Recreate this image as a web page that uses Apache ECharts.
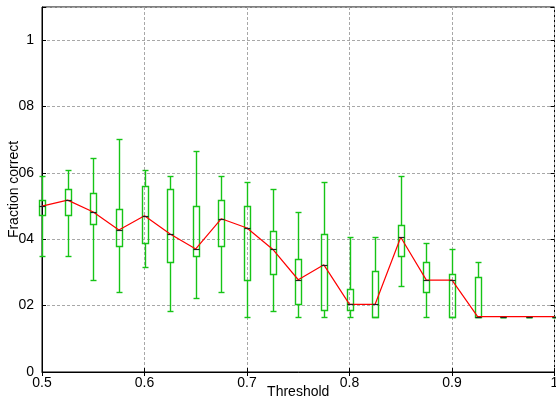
<!DOCTYPE html>
<html><head><meta charset="utf-8">
<script src="https://cdn.jsdelivr.net/npm/echarts@6/dist/echarts.min.js"></script>
<style>html,body{margin:0;padding:0;background:#fff}#c{width:556px;height:400px}</style>
</head><body><div id="c"></div>
<script>
// ---- data ----
const thresholds = [0.5,0.525,0.55,0.575,0.6,0.625,0.65,0.675,0.7,0.725,0.75,0.775,0.8,0.825,0.85,0.875,0.9,0.925,0.95,0.975,1.0];
const whiskerLow = [0.351,0.351,0.278,0.240,0.315,0.185,0.222,0.240,0.167,0.185,0.167,0.167,0.167,0.167,0.259,0.167,0.167,0.167,0.167,0.167,0.167];
const boxLow     = [0.472,0.472,0.445,0.380,0.388,0.333,0.351,0.379,0.277,0.295,0.204,0.186,0.186,0.167,0.351,0.240,0.167,0.167,0.167,0.167,0.167];
const medians    = [0.500,0.518,0.482,0.428,0.471,0.416,0.371,0.462,0.434,0.370,0.278,0.323,0.204,0.204,0.406,0.277,0.277,0.167,0.167,0.167,0.167];
const boxHigh    = [0.518,0.553,0.538,0.490,0.562,0.553,0.500,0.518,0.499,0.426,0.342,0.416,0.249,0.305,0.443,0.332,0.296,0.287,0.167,0.167,0.167];
const whiskerHigh= [0.591,0.608,0.645,0.702,0.608,0.590,0.665,0.590,0.572,0.553,0.481,0.572,0.407,0.407,0.590,0.388,0.370,0.332,0.167,0.167,0.167];
const xTickValues = [0.5,0.6,0.7,0.8,0.9,1.0];
const xTickLabels = ['0.5','0.6','0.7','0.8','0.9','1'];
const yTickValues = [0,0.2,0.4,0.6,0.8,1.0];
const yTickLabels = ['0','02','04','06','08','1'];
const xTitle = 'Threshold';
const yTitle = 'Fraction correct';

// ---- build ----
const FONT = 'Liberation Sans';
function lookup(vals, labels, v){
  for (let i=0;i<vals.length;i++) if (Math.abs(vals[i]-v)<1e-6) return labels[i];
  return '';
}
const boxData = thresholds.map((x,i)=>[x, whiskerLow[i], boxLow[i], medians[i], boxHigh[i], whiskerHigh[i]]);
const lineData = thresholds.map((x,i)=>[x, medians[i]]);
const GREEN = '#16c416';
const px = v => Math.round(v)+0.5;

function renderBox(params, api){
  const x = api.value(0);
  const pLo = api.coord([x, api.value(1)]);
  const pQ1 = api.coord([x, api.value(2)]);
  const pQ3 = api.coord([x, api.value(4)]);
  const pHi = api.coord([x, api.value(5)]);
  const cx = px(pLo[0]);
  const hw = 3;
  const st = {stroke: GREEN, lineWidth: 1.4, fill: null};
  const yLo = px(pLo[1]), yQ1 = px(pQ1[1]), yQ3 = px(pQ3[1]), yHi = px(pHi[1]);
  return {type:'group', children:[
    {type:'line', shape:{x1:cx,y1:yLo,x2:cx,y2:yQ1}, style:st},
    {type:'line', shape:{x1:cx,y1:yQ3,x2:cx,y2:yHi}, style:st},
    {type:'line', shape:{x1:cx-hw,y1:yLo,x2:cx+hw,y2:yLo}, style:st},
    {type:'line', shape:{x1:cx-hw,y1:yHi,x2:cx+hw,y2:yHi}, style:st},
    {type:'rect', shape:{x:cx-hw,y:yQ3,width:2*hw,height:yQ1-yQ3}, style:{stroke:GREEN,lineWidth:1.4,fill:null}}
  ]};
}
function renderMedian(params, api){
  const p = api.coord([api.value(0), api.value(3)]);
  const cx = px(p[0]), y = px(p[1]);
  return {type:'line', shape:{x1:cx-3,y1:y,x2:cx+3,y2:y}, style:{stroke:'#222',lineWidth:1.2}};
}

const gridLine = {show:true, lineStyle:{color:'#a8a8a8', type:[3,2], width:1}};
const chart = echarts.init(document.getElementById('c'), null, {renderer:'canvas'});
chart.setOption({
  animation:false,
  backgroundColor:'#fff',
  grid:{left:42, right:1.5, top:7, bottom:28, show:true, borderColor:'#000', borderWidth:1,
    backgroundColor:'transparent', containLabel:false, outerBoundsMode:'none'},
  xAxis:[{
    type:'value', min:0.5, max:1.0, interval:0.1,
    name:xTitle, nameLocation:'middle', nameGap:13, nameMoveOverlap:false,
    nameTextStyle:{fontFamily:FONT, fontSize:14, color:'#000'},
    axisLine:{show:true, lineStyle:{color:'#000', width:1}},
    axisTick:{show:true, inside:true, length:4, lineStyle:{color:'#000'}},
    axisLabel:{fontFamily:FONT, fontSize:14, color:'#000', margin:4, hideOverlap:false,
      formatter:v=>lookup(xTickValues,xTickLabels,v)},
    splitLine:gridLine
  },{
    type:'value', min:0.5, max:1.0, interval:0.1, position:'top',
    axisLine:{show:false}, axisLabel:{show:false}, splitLine:{show:false},
    axisTick:{show:true, inside:true, length:4, lineStyle:{color:'#000'}}
  }],
  yAxis:[{
    type:'value', min:0, max:1.1, interval:0.2,
    name:yTitle, nameLocation:'middle', nameGap:21, nameRotate:90, nameMoveOverlap:false,
    nameTextStyle:{fontFamily:FONT, fontSize:14, color:'#000'},
    axisLine:{show:true, lineStyle:{color:'#000', width:1}},
    axisTick:{show:true, inside:true, length:4, lineStyle:{color:'#000'}},
    axisLabel:{fontFamily:FONT, fontSize:14, color:'#000', margin:8, hideOverlap:false,
      formatter:v=>lookup(yTickValues,yTickLabels,v)},
    splitLine:gridLine
  },{
    type:'value', min:0, max:1.1, interval:0.2, position:'right',
    axisLine:{show:false}, axisLabel:{show:false}, splitLine:{show:false},
    axisTick:{show:true, inside:true, length:4, lineStyle:{color:'#000'}}
  }],
  series:[
    {type:'custom', renderItem:renderBox, data:boxData, z:2, clip:false,
      encode:{x:0, y:[1,2,3,4,5]}},
    {type:'line', data:lineData, showSymbol:false, symbol:'none', z:3,
      lineStyle:{color:'#ff0000', width:1.2}},
    {type:'custom', renderItem:renderMedian, data:boxData, z:4, clip:false,
      encode:{x:0, y:[1,2,3,4,5]}}
  ]
});
</script>
</body></html>
